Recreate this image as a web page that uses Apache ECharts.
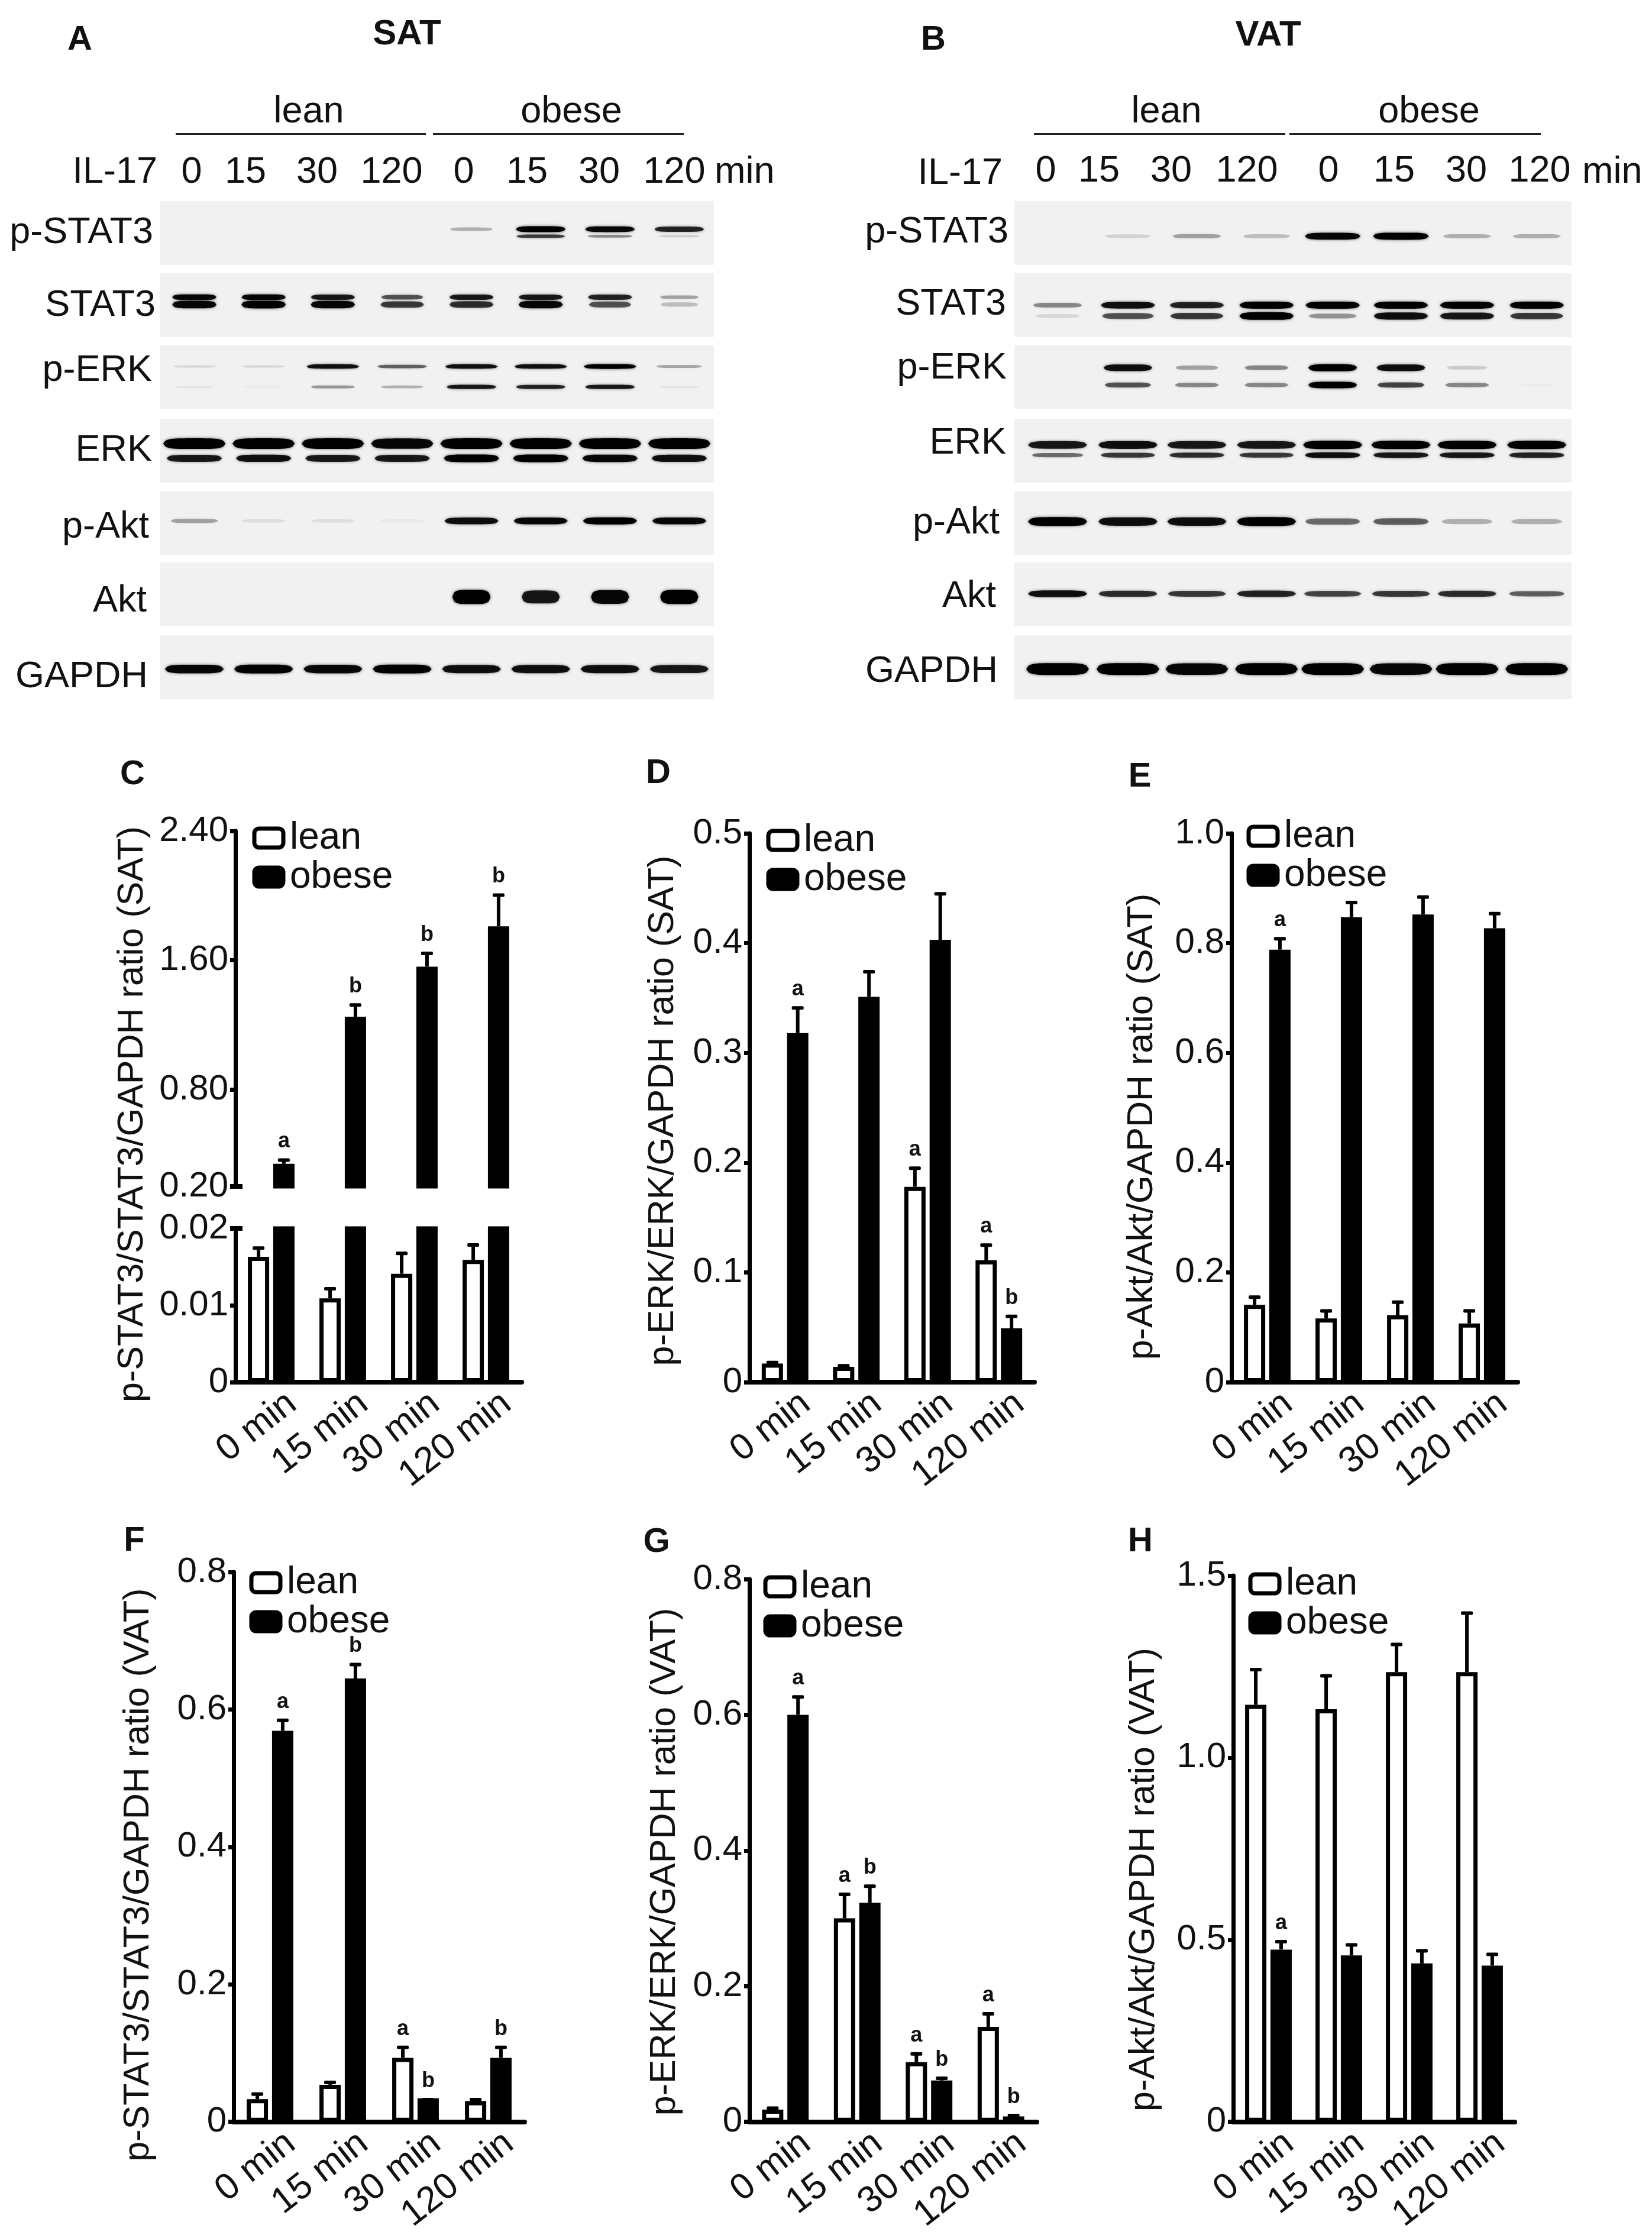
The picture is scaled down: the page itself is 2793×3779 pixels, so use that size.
<!DOCTYPE html>
<html><head><meta charset="utf-8">
<style>html,body{margin:0;padding:0;background:#fff}#c{width:2793px;height:3779px}</style>
<script src="https://cdn.jsdelivr.net/npm/echarts@6/dist/echarts.min.js"></script>
</head><body><div id="c"></div>
<script>
// ---------- categories ----------
const timeCats = ['0 min','15 min','30 min','120 min'];
const groupNames = ['lean','obese'];
const ilLanes = ['0','15','30','120','0','15','30','120'];
// ---------- bar values ----------
const leanC  = [0.0163,0.0109,0.0141,0.0159], leanCErr  = [0.0176,0.0123,0.0169,0.0180];
const obeseC = [0.34,1.25,1.56,1.81],         obeseCErr = [0.37,1.33,1.65,2.01];
const leanD  = [0.017,0.014,0.178,0.111], leanDErr  = [0.019,0.016,0.196,0.126];
const obeseD = [0.318,0.351,0.403,0.049], obeseDErr = [0.342,0.375,0.446,0.061];
const leanE  = [0.141,0.116,0.122,0.107], leanEErr  = [0.157,0.132,0.148,0.132];
const obeseE = [0.788,0.847,0.852,0.827], obeseEErr = [0.810,0.876,0.886,0.856];
const leanF  = [0.033,0.054,0.093,0.030], leanFErr  = [0.042,0.059,0.110,0.034];
const obeseF = [0.569,0.645,0.034,0.093], obeseFErr = [0.586,0.667,0.034,0.110];
const leanG  = [0.018,0.300,0.088,0.140], leanGErr  = [0.022,0.337,0.102,0.161];
const obeseG = [0.600,0.323,0.061,0.008], obeseGErr = [0.628,0.349,0.066,0.011];
const leanH  = [1.145,1.133,1.235,1.235], leanHErr  = [1.245,1.228,1.314,1.400];
const obeseH = [0.473,0.457,0.435,0.429], obeseHErr = [0.498,0.489,0.473,0.463];
// ---------- significance letters ----------
const leanCMarks=['','','',''],   obeseCMarks=['a','b','b','b'];
const leanDMarks=['','','a','a'], obeseDMarks=['a','','','b'];
const leanEMarks=['','','',''],   obeseEMarks=['a','','',''];
const leanFMarks=['','','a',''],  obeseFMarks=['a','b','b','b'];
const leanGMarks=['','a','a','a'],obeseGMarks=['a','b','b','b'];
const leanHMarks=['','','',''],   obeseHMarks=['a','','',''];
// ---------- tick labels ----------
const ticksCUpper=[0.2,0.8,1.6,2.4], ticksCLower=[0,0.01,0.02];
const ticksD=[0,0.1,0.2,0.3,0.4,0.5], ticksE=[0,0.2,0.4,0.6,0.8,1.0];
const ticksF=[0,0.2,0.4,0.6,0.8], ticksG=[0,0.2,0.4,0.6,0.8], ticksH=[0,0.5,1.0,1.5];
// ---------- western blot band intensities, one value per lane ----------
const rowNames=['p-STAT3','STAT3','p-ERK','ERK','p-Akt','Akt','GAPDH'];
const satPStat3Hi=[0,0,0,0,.25,1,.95,.8],          satPStat3Lo=[0,0,0,0,0,.7,.4,.15];
const satStat3Hi=[.95,.95,.85,.6,.85,.85,.8,.3],   satStat3Lo=[.95,1,.95,.7,.75,.95,.6,.2];
const satPErkHi=[.1,.1,.9,.55,.9,.9,1,.3],         satPErkLo=[.05,.03,.35,.25,.85,.8,.85,.05];
const satErkHi=[1,1,1,.95,1,1,1,1],                satErkLo=[.85,.9,.85,.85,1,1,.95,.9];
const satPAkt=[.3,.08,.08,.04,.9,.95,1,.95];
const satAkt=[0,0,0,0,1,.85,.95,1];
const satGapdh=[.95,1,.95,1,.9,.9,.9,.85];
const vatPStat3=[0,.12,.3,.2,.95,1,.25,.25];
const vatStat3Hi=[.4,.9,.8,1,1,1,1,1],             vatStat3Lo=[.1,.6,.7,1,.35,.9,.85,.7];
const vatPErkHi=[0,.9,.3,.4,1,.9,.15,0],           vatPErkLo=[0,.6,.4,.4,1,.65,.4,.02];
const vatErkHi=[.85,.9,.85,.85,1,1,1,1],           vatErkLo=[.5,.7,.75,.7,.9,.85,.85,.8];
const vatPAkt=[1,.9,.9,1,.5,.55,.25,.25];
const vatAkt=[.9,.75,.7,.8,.65,.7,.75,.55];
const vatGapdh=[1,1,.95,1,1,.95,1,1];

// ---------- layout & style (not data) ----------
const FONT='"Liberation Sans",Arial,sans-serif', INK='#111';
const BAR_W=36, BORDER=7, GAP_PCT=19, OFFSET=BAR_W*(1+GAP_PCT/100)/2;

const opt={animation:false,backgroundColor:'#fff',grid:[],xAxis:[],yAxis:[],series:[],legend:[],graphic:[]};
const txt=(text,x,y,o={})=>opt.graphic.push({type:'text',x,y,rotation:o.rot||0,silent:true,
  style:{text,fill:INK,font:`${o.bold?'bold ':''}${o.size||63}px ${FONT}`,align:o.align||'center',verticalAlign:'middle'}});

// ---------- blots ----------
const rowTops=[340,462,584,708,830,951,1074], rowH=108;
const blots=[
 {x:270,w:937,shift:[0,0,0,0,0,0,0,0],rows:[
  [[.44,satPStat3Hi,10,.72],[.55,satPStat3Lo,7,.72]],[[.375,satStat3Hi,10,.64],[.49,satStat3Lo,13,.64]],
  [[.33,satPErkHi,8,.76],[.65,satPErkLo,8,.72]],[[.39,satErkHi,18,.9],[.62,satErkLo,13,.8]],
  [[.47,satPAkt,12,.78]],[[.54,satAkt,24,.55]],[[.53,satGapdh,15,.85]]]},
 {x:1715,w:942,shift:[.12,.13,.12,.12,.07,.05,0,0],rows:[
  [[.55,vatPStat3,12,.8]],[[.5,vatStat3Hi,12,.78],[.67,vatStat3Lo,13,.78]],
  [[.35,vatPErkHi,12,.7],[.62,vatPErkLo,11,.7]],[[.41,vatErkHi,14,.85],[.57,vatErkLo,10,.8]],
  [[.48,vatPAkt,15,.85]],[[.49,vatAkt,12,.85]],[[.53,vatGapdh,20,.9]]]}
];
const bandItem=(params,api)=>{
  const c=api.coord([api.value(0),api.value(1)]), v=api.value(2), t=api.value(3), wf=api.value(4);
  const w=api.size([wf,0])[0]*(.8+.2*Math.min(v*1.3,1)), h=Math.max(3,t*(.45+.55*v));
  const top=[],bot=[];
  for(let k=0;k<=24;k++){const s=k/24,u=2*s-1,hh=h/2*Math.sqrt(Math.max(0,1-Math.pow(Math.abs(u),5)));
    top.push([c[0]-w/2+w*s,c[1]-hh]);bot.unshift([c[0]-w/2+w*s,c[1]+hh]);}
  return {type:'polygon',shape:{points:top.concat(bot)},
    style:{fill:`rgba(0,0,0,${Math.min(1,v)})`,shadowBlur:5,shadowColor:`rgba(0,0,0,${v*.6})`}};
};
blots.forEach(b=>b.rows.forEach((bands,r)=>{
  const gi=opt.grid.length;
  opt.grid.push({left:b.x,top:rowTops[r],width:b.w,height:rowH,show:true,backgroundColor:'#f1f1f1',borderWidth:0});
  opt.xAxis.push({gridIndex:gi,type:'value',min:0,max:8,show:false});
  opt.yAxis.push({gridIndex:gi,type:'value',min:0,max:1,inverse:true,show:false});
  const data=[];
  bands.forEach(([y,vals,th,wf])=>vals.forEach((v,i)=>{if(v>0)data.push([i+.5+b.shift[i],y,v,th,wf]);}));
  opt.series.push({type:'custom',coordinateSystem:'cartesian2d',xAxisIndex:gi,yAxisIndex:gi,silent:true,clip:true,renderItem:bandItem,data});
}));

// blot text
txt('A',135,68,{bold:true,size:58}); txt('SAT',688,58,{bold:true,size:60});
txt('B',1578,68,{bold:true,size:58}); txt('VAT',2144,60,{bold:true,size:60});
[[groupNames[0],522],[groupNames[1],966],[groupNames[0],1972],[groupNames[1],2416]].forEach(([t,x])=>txt(t,x,190));
txt('IL-17',266,292,{align:'right'}); txt('IL-17',1695,294,{align:'right'});
txt('min',1208,292,{align:'left'}); txt('min',2675,292,{align:'left'});
[324,415,536,662,784,891,1013,1140].forEach((x,i)=>txt(ilLanes[i],x,292));
[1768,1858,1980,2108,2246,2357,2479,2603].forEach((x,i)=>txt(ilLanes[i],x,290));
[[259,394],[263,517],[257,627],[257,762],[252,892],[248,1017],[250,1145]].forEach(([x,y],i)=>txt(rowNames[i],x,y,{align:'right'}));
[[1705,393],[1701,515],[1702,623],[1701,750],[1690,885],[1684,1009],[1687,1136]].forEach(([x,y],i)=>txt(rowNames[i],x,y,{align:'right'}));
[[297,720],[732,1156],[1748,2173],[2180,2605]].forEach(([a,b])=>opt.graphic.push({type:'rect',silent:true,
  shape:{x:a,y:225,width:b-a,height:3},style:{fill:'#222'}}));

// ---------- bar plots ----------
const errItem=(side,marks)=>(params,api)=>{
  const i=api.value(0), base=api.coord([i,api.value(1)]), top=api.coord([i,api.value(2)]);
  const x=base[0]+side*OFFSET, kids=[
    {type:'rect',shape:{x:x-3,y:top[1],width:6,height:Math.max(0,base[1]-top[1])},style:{fill:'#000'}},
    {type:'rect',shape:{x:x-10,y:top[1]-1,width:20,height:6,r:2},style:{fill:'#000'}}];
  if(marks&&marks[i]) kids.push({type:'text',x,y:top[1]-29,style:{text:marks[i],fill:'#111',font:`bold 36px ${FONT}`,align:'center',verticalAlign:'middle'}});
  return {type:'group',children:kids};
};
function addAxes(x,w,top,h,min,max,ticks,fmt,showX){
  const gi=opt.grid.length;
  opt.grid.push({left:x,top,width:w,height:h});
  opt.xAxis.push({gridIndex:gi,type:'category',data:timeCats,show:true,
    axisLine:{show:showX,lineStyle:{color:'#000',width:8,cap:'round'}},axisTick:{show:false},
    axisLabel:{show:showX,rotate:38,interval:0,fontFamily:FONT,fontSize:62,color:INK,margin:57,align:'right',verticalAlign:'middle',padding:[0,-45,0,0]}});
  opt.yAxis.push({gridIndex:gi,type:'value',min,max,splitLine:{show:false},
    axisLine:{show:true,onZero:false,lineStyle:{color:'#000',width:7}},
    axisTick:{show:true,length:9,customValues:ticks,lineStyle:{color:'#000',width:7}},
    axisLabel:{customValues:ticks,formatter:fmt,fontFamily:FONT,fontSize:60,color:INK,margin:12}});
  return gi;
}
const barSeries=(gi,name,data,fill)=>({name,type:'bar',xAxisIndex:gi,yAxisIndex:gi,data,barWidth:BAR_W,barGap:GAP_PCT+'%',clip:true,silent:true,
    itemStyle:{color:fill,borderColor:'#000',borderWidth:BORDER}});
const errSeries=(gi,side,vals,errs,marks)=>({type:'custom',coordinateSystem:'cartesian2d',xAxisIndex:gi,yAxisIndex:gi,silent:true,clip:false,z:1,
    renderItem:errItem(side,marks),data:vals.map((v,i)=>[i,v,errs[i]])});
const fmt1=v=>v===0?'0':v.toFixed(1), fmt2=v=>v===0?'0':v.toFixed(2);
const legendAt=(x,y,gap)=>opt.legend.push({left:x-3.5,top:y-35,orient:'vertical',data:groupNames,selectedMode:false,
  itemWidth:49,itemHeight:32,itemGap:gap,icon:'roundRect',itemStyle:{borderWidth:7,borderColor:'#000'},
  textStyle:{fontFamily:FONT,fontSize:64,color:INK,lineHeight:40,padding:[0,0,14,6]}});

// panel C — broken axis drawn as two stacked grids
const cU=addAxes(398,484,1405,601,0.2,2.4,ticksCUpper,fmt2,false);
opt.series.push(barSeries(cU,groupNames[0],[null,null,null,null],'#fff'),barSeries(cU,groupNames[1],obeseC,'#000'),errSeries(cU,1,obeseC,obeseCErr,obeseCMarks));
const cL=addAxes(398,484,2077,260,0,0.02,ticksCLower,fmt2,true);
// lower obese bars run off the top of the lower segment and are clipped there
opt.series.push(barSeries(cL,groupNames[0],leanC,'#fff'),barSeries(cL,groupNames[1],obeseC,'#000'),errSeries(cL,-1,leanC,leanCErr,leanCMarks));
[2006,2077].forEach(y=>opt.graphic.push({type:'rect',silent:true,shape:{x:389,y:y-4,width:21,height:8},style:{fill:'#000'}}));
legendAt(425,1415,2);

const plots=[
 [1267,482,1409,928,0.5,ticksD,leanD,leanDErr,leanDMarks,obeseD,obeseDErr,obeseDMarks,1294,1419],
 [2082,484,1409,928,1.0,ticksE,leanE,leanEErr,leanEMarks,obeseE,obeseEErr,obeseEMarks,2106,1412],
 [395,492,2658,930,0.8,ticksF,leanF,leanFErr,leanFMarks,obeseF,obeseFErr,obeseFMarks,420,2674],
 [1267,486,2670,933,0.8,ticksG,leanG,leanGErr,leanGMarks,obeseG,obeseGErr,obeseGMarks,1289,2681],
 [2085,476,2664,929,1.5,ticksH,leanH,leanHErr,leanHMarks,obeseH,obeseHErr,obeseHMarks,2109,2676]
];
plots.forEach(p=>{
  const gi=addAxes(p[0],p[1],p[2],p[3],0,p[4],p[5],fmt1,true);
  opt.series.push(barSeries(gi,groupNames[0],p[6],'#fff'),barSeries(gi,groupNames[1],p[9],'#000'),
    errSeries(gi,-1,p[6],p[7],p[8]),errSeries(gi,1,p[9],p[10],p[11]));
  legendAt(p[12],p[13],2);
});

// panel letters & y titles
[['C',224,1310],['D',1113,1308],['E',1927,1314],['F',227,2606],['G',1110,2608],['H',1928,2607]].forEach(([t,x,y])=>txt(t,x,y,{bold:true,size:58}));
[['p-STAT3/STAT3/GAPDH ratio (SAT)',224,1884],['p-ERK/ERK/GAPDH ratio (SAT)',1121,1878],['p-Akt/Akt/GAPDH ratio (SAT)',1931,1905],
 ['p-STAT3/STAT3/GAPDH ratio (VAT)',234,3170],['p-ERK/ERK/GAPDH ratio (VAT)',1124,3148],['p-Akt/Akt/GAPDH ratio (VAT)',1934,3178]]
 .forEach(([t,x,y])=>txt(t,x,y,{rot:Math.PI/2,size:61}));

echarts.init(document.getElementById('c'),null,{width:2793,height:3779}).setOption(opt);
</script></body></html>
